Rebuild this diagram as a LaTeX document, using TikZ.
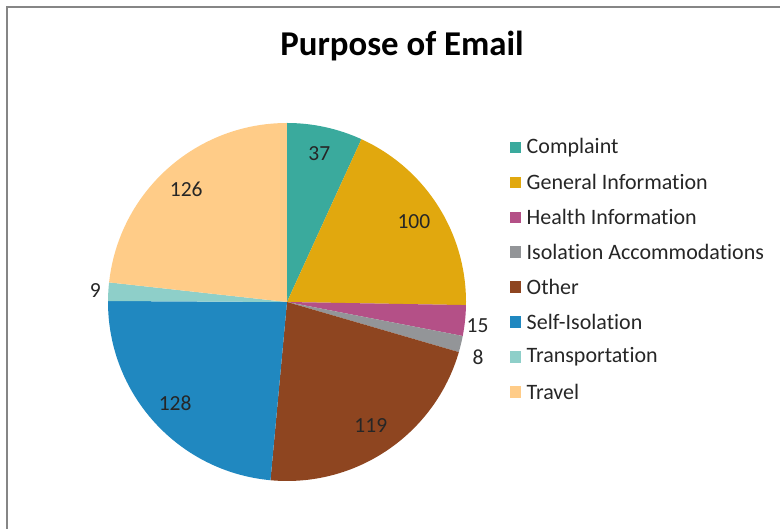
\documentclass[tikz,border=0pt]{standalone}
\usepackage{fontspec}
\setmainfont[Ligatures=NoCommon]{Carlito}
\definecolor{complaint}{RGB}{58,170,157}
\definecolor{geninfo}{RGB}{225,168,14}
\definecolor{healthinfo}{RGB}{180,80,135}
\definecolor{isolacc}{RGB}{147,149,152}
\definecolor{other}{RGB}{142,69,32}
\definecolor{selfiso}{RGB}{32,136,192}
\definecolor{transport}{RGB}{142,207,201}
\definecolor{travel}{RGB}{255,204,136}
\definecolor{framegray}{RGB}{134,134,134}
\tikzset{
  frame/.style={draw=framegray, line width=1.6pt},
  charttitle/.style={font=\fontsize{34.8}{40}\selectfont\bfseries, text=black},
  datalabel/.style={font=\fontsize{21.5}{24}\selectfont, text=black!85, inner sep=0pt},
  legendbox/.style={minimum size=11.5pt, inner sep=0pt},
  legendtext/.style={font=\fontsize{22}{24}\selectfont, text=black!85, anchor=west, inner sep=0pt}
}

\begin{document}
\begin{tikzpicture}[x=1pt, y=1pt]
  \useasboundingbox (0,0) rectangle (780,529);
  \draw[frame] (7,0) -- (7,522) -- (780,522);
  \node[charttitle] (title) at (402,483) {Purpose of Email};
  \coordinate (c) at (287,227);
  % slices, clockwise from the top; total 542
  \foreach \v/\col/\lr/\da [count=\i, remember=\e as \s (initially 90)] in
    {37/complaint/152/0, 100/geninfo/150/0, 15/healthinfo/192/-1,
     8/isolacc/199/-2.5, 119/other/149/0, 128/selfiso/151/0,
     9/transport/192/0, 126/travel/151/0}
  {
    \pgfmathsetmacro{\e}{\s-\v/542*360}
    \fill[\col] (c) -- ++(\s:179) arc[start angle=\s, end angle=\e, radius=179] -- cycle;
    \pgfmathsetmacro{\m}{(\s+\e)/2+\da}
    \node[datalabel] (v\i) at ([shift={(\m:\lr)}]c) {\v};
  }
  % legend
  \foreach \name/\col [count=\i] in
    {Complaint/complaint, General Information/geninfo, Health Information/healthinfo,
     Isolation Accommodations/isolacc, Other/other, Self-Isolation/selfiso,
     Transportation/transport, Travel/travel}
  {
    \node[legendbox, fill=\col] (box\i) at (515.5, 381.5-34.9*\i+34.9) {};
    \node[legendtext] (leg\i) at (526.5, 381.5-34.9*\i+34.9) {\name};
  }
\end{tikzpicture}
\end{document}
